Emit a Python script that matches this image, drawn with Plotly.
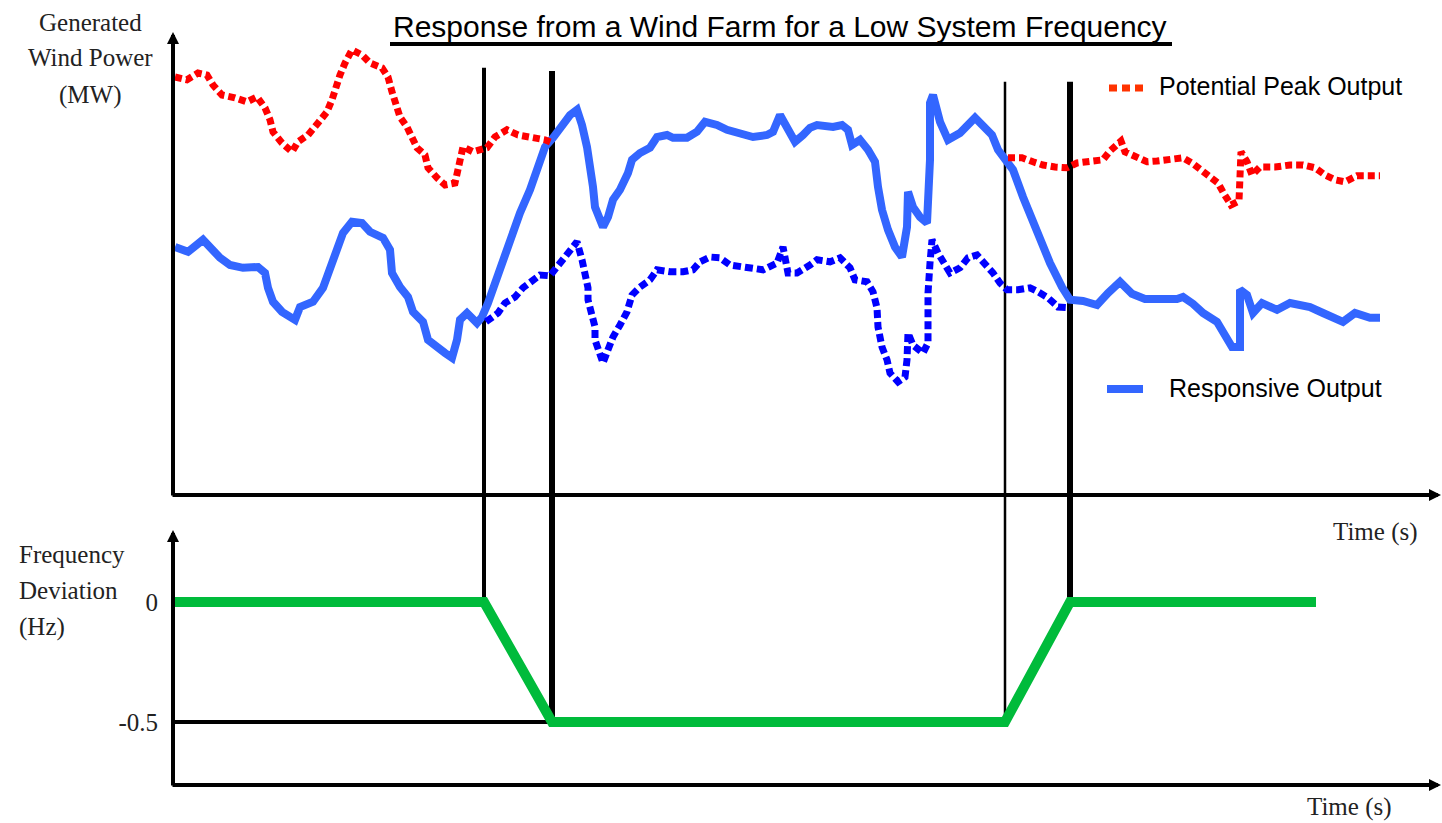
import plotly.graph_objects as go

W, H = 1442, 823

# ---------------- data ----------------
# Potential peak output (MW) - two visible segments
peak_t = [0.2, 1.4, 2.5, 3.4, 4.0, 4.9, 6.2, 7.4, 8.4, 9.2, 9.7, 10.0, 10.9, 11.9, 12.5, 13.5, 14.5,
          15.4, 15.9, 16.2, 16.7, 17.2, 17.9, 18.9, 19.7, 20.9, 21.5, 21.9, 22.7, 23.4, 23.9, 24.4,
          25.2, 25.5, 26.4, 27.2, 28.2, 28.4, 28.7, 29.0, 30.0, 31.4, 32.2, 33.4, 34.5, 35.9, 37.2, 38.0,
          None,
          83.5, 84.9, 86.0, 87.0, 88.2, 89.4, 90.4, 91.7, 93.0, 93.7, 94.8, 95.2, 96.2, 97.4, 98.4,
          99.9, 101.0, 101.9, 102.7, 103.7, 104.5, 105.1, 105.8, 106.6, 106.7, 106.7, 106.8, 107.4,
          107.9, 108.7, 110.2, 111.7, 113.0, 114.2, 115.2, 116.2, 117.2, 118.4, 119.5, 120.7]
peak_mw = [104.5, 103.8, 105.5, 105.0, 102.5, 100.0, 99.3, 98.3, 99.5, 96.8, 93.8, 90.8, 88.0, 85.8,
           88.3, 90.0, 93.0, 95.8, 98.8, 101.8, 105.0, 108.0, 111.3, 110.0, 108.0, 106.8, 104.5, 100.8,
           94.5, 92.0, 89.5, 86.8, 85.0, 81.8, 79.3, 77.5, 78.0, 80.8, 84.3, 87.0, 85.8, 86.8, 89.5,
           91.3, 90.0, 89.5, 88.8, 88.0,
           None,
           84.3, 84.3, 83.3, 82.5, 82.0, 81.8, 83.0, 83.3, 83.8, 86.0, 88.5, 85.8, 84.5, 83.3, 83.5,
           83.8, 84.3, 83.0, 81.3, 79.3, 78.0, 75.3, 72.5, 73.5, 77.0, 80.8, 85.8, 83.3,
           80.0, 82.0, 82.0, 82.5, 82.5, 81.8, 80.0, 78.8, 78.3, 79.8, 79.8, 79.8]

# Responsive output (MW)
resp_t = [0.2, 1.5, 3.0, 3.9, 4.7, 5.7, 7.0, 8.5, 9.2, 9.5, 10.0, 10.9, 12.2, 12.7, 14.0, 15.0, 15.7,
          16.4, 17.0, 17.9, 18.9, 19.7, 21.0, 21.7, 21.9, 22.7, 23.5, 24.0, 25.0, 25.5, 26.4, 27.2,
          27.9, 28.4, 28.7, 29.4, 30.4, 30.9, 31.5, 32.2, 33.0, 33.9, 34.7, 35.7, 36.5, 37.2, 38.0,
          38.9, 39.7, 40.4, 40.9, 41.4, 41.7, 42.0, 42.2, 43.0, 43.5, 44.0, 44.7, 45.5, 45.9, 46.7,
          47.7, 48.4, 49.4, 50.0, 51.4, 52.4, 53.2, 54.4, 55.4, 56.5, 58.0, 59.4, 60.0, 60.7, 61.4,
          62.2, 63.0, 63.7, 64.4, 66.0, 66.9, 67.5, 67.9, 68.7, 69.5, 70.2, 70.5, 70.9, 71.5, 72.2,
          72.9, 73.4, 73.5, 74.0, 74.7, 75.4, 75.7, 75.7, 76.0, 76.7, 77.5, 78.7, 80.2, 81.0, 81.9,
          82.5, 83.2, 84.0, 85.0, 85.9, 86.7, 87.7, 88.9, 89.7, 91.0, 92.4, 93.5, 94.7, 95.9, 97.2,
          100.4, 101.0, 102.0, 103.0, 104.4, 105.0, 105.9, 106.7, 106.7, 107.4, 108.0, 108.9, 110.4,
          111.7, 113.7, 115.0, 116.0, 117.0, 118.2, 119.7, 120.7]
resp_mw = [62.0, 60.8, 63.8, 61.3, 59.3, 57.5, 56.8, 57.0, 55.5, 51.8, 48.3, 45.8, 43.8, 47.0, 48.3,
           51.8, 56.3, 62.0, 65.5, 68.3, 68.0, 65.8, 64.3, 61.3, 55.5, 52.0, 49.5, 45.8, 43.3, 38.8,
           36.8, 35.5, 34.3, 38.8, 43.8, 45.5, 43.0, 44.5, 48.0, 53.0, 58.8, 64.5, 70.5, 76.3, 82.0,
           87.0, 89.3, 92.0, 95.0, 96.3, 92.5, 87.0, 83.0, 77.0, 72.0, 67.0, 69.5, 73.8, 76.3, 80.5,
           83.8, 85.5, 86.8, 89.5, 90.0, 89.3, 89.3, 90.8, 93.3, 92.5, 91.3, 90.5, 89.5, 90.0, 90.8,
           95.0, 91.8, 88.3, 90.0, 91.8, 92.5, 92.0, 92.5, 91.3, 87.5, 88.8, 86.3, 83.3, 77.0, 71.3,
           66.3, 62.0, 59.5, 67.0, 75.8, 72.0, 69.5, 68.0, 83.8, 98.0, 100.0, 93.3, 88.8, 90.5, 94.3,
           92.0, 90.0, 86.3, 84.3, 81.3, 74.5, 68.8, 63.8, 58.0, 52.0, 48.8, 48.5, 47.5, 50.5, 53.3,
           50.3, 49.0, 49.0, 49.5, 47.8, 45.5, 43.3, 40.5, 37.0, 37.0, 51.3, 50.0, 45.5, 48.0, 46.3,
           48.0, 47.0, 45.5, 44.3, 43.3, 45.5, 44.3, 44.3]

# De-loaded output during the event (MW)
deload_t = [31.3, 32.5, 33.2, 34.2, 35.0, 36.0, 36.7, 37.7, 38.7, 39.7, 40.4, 40.9, 41.2, 41.5, 41.5,
            41.9, 42.2, 42.2, 42.7, 43.0, 43.5, 44.0, 44.7, 45.4, 45.9, 46.7, 47.7, 48.4, 49.7, 51.0,
            52.0, 52.7, 53.7, 54.7, 55.7, 57.4, 59.0, 60.4, 61.0, 61.5, 62.4, 63.7, 64.4, 65.7, 66.7,
            67.7, 68.2, 69.4, 70.0, 70.4, 70.5, 70.9, 71.4, 71.7, 72.5, 73.2, 73.4, 73.5, 74.0, 75.0,
            75.5, 75.5, 75.5, 75.7, 75.9, 76.5, 77.1, 77.7, 78.7, 79.5, 80.4, 81.2, 82.0, 82.7, 83.4,
            84.5, 85.7, 86.5, 87.5, 88.5, 89.7]
deload_mw = [43.3, 45.5, 48.0, 49.5, 51.8, 53.8, 55.0, 54.8, 58.0, 61.0, 63.3, 58.8, 55.5, 51.8, 48.8,
             45.5, 42.0, 38.8, 35.5, 33.0, 36.3, 39.5, 42.5, 45.8, 50.0, 52.0, 53.8, 56.3, 55.8, 55.8,
             56.3, 58.3, 59.5, 59.3, 57.5, 56.8, 56.3, 58.0, 62.0, 55.5, 55.5, 57.5, 58.8, 58.3, 59.3,
             56.8, 53.8, 53.3, 50.8, 46.8, 42.0, 37.0, 33.8, 30.5, 28.3, 29.5, 33.8, 40.5, 37.5, 35.5,
             38.0, 43.8, 50.5, 58.0, 63.8, 60.5, 57.8, 55.5, 56.8, 59.3, 60.0, 58.0, 55.5, 53.0, 51.3,
             51.3, 51.8, 50.8, 49.3, 47.0, 46.8]

# Frequency deviation (Hz)
freq_t = [0.0, 31.1, 37.9, 83.2, 89.7, 114.3]
freq_dev = [0.0, 0.0, -0.5, -0.5, 0.0, 0.0]

# Event markers
event_t = [31.1, 37.9, 83.2, 89.7]
event_top_mw = [106.8, 106.0, 103.3, 103.3]
event_bottom_hz = [0.0, -0.5, -0.5, 0.0]
event_width = [4, 6, 2.5, 6]

y2_ticks = [0, -0.5]
y2_ticktext = ["0", "-0.5"]

# ---------------- layout geometry ----------------
def px(x):
    return x / W

def py(y):
    return 1 - y / H

XDOM = [px(173), px(1440)]
XR = [0, 126.7]
Y1DOM = [py(495), py(35)]
Y1R = [0, 115]
Y2DOM = [py(785), py(530)]
Y2R = [-(785 - 602) / 240, (602 - 530) / 240]

def paper_y1(v):
    return Y1DOM[0] + (v - Y1R[0]) / (Y1R[1] - Y1R[0]) * (Y1DOM[1] - Y1DOM[0])

def paper_y2(v):
    return Y2DOM[0] + (v - Y2R[0]) / (Y2R[1] - Y2R[0]) * (Y2DOM[1] - Y2DOM[0])

RED = "#FF0000"
BLUE = "#3366FF"
DBLUE = "#0000FF"
GREEN = "#00BB3B"
SERIF = "Liberation Serif, Times New Roman, serif"
SANS = "Liberation Sans, Arial, sans-serif"
TXT = "#222222"

fig = go.Figure()

fig.add_trace(go.Scatter(x=resp_t, y=resp_mw, mode="lines", name="Responsive Output",
                         line=dict(color=BLUE, width=8), xaxis="x", yaxis="y"))
fig.add_trace(go.Scatter(x=deload_t, y=deload_mw, mode="lines", name="De-loaded",
                         line=dict(color=DBLUE, width=7, dash="8px,4px"), xaxis="x", yaxis="y"))
fig.add_trace(go.Scatter(x=peak_t, y=peak_mw, mode="lines", name="Potential Peak Output",
                         line=dict(color=RED, width=7, dash="7px,4px"), connectgaps=False,
                         xaxis="x", yaxis="y"))
fig.add_trace(go.Scatter(x=freq_t, y=freq_dev, mode="lines", name="Frequency",
                         line=dict(color=GREEN, width=10), xaxis="x2", yaxis="y2"))

shapes = []
# horizontal -0.5 reference
shapes.append(dict(type="line", xref="x2", yref="y2", x0=0, x1=event_t[1], y0=-0.5, y1=-0.5,
                   line=dict(color="black", width=4), layer="below"))
# vertical event lines
for t, top, bot, w in zip(event_t, event_top_mw, event_bottom_hz, event_width):
    shapes.append(dict(type="line", xref="x", yref="paper", x0=t, x1=t,
                       y0=paper_y2(bot), y1=paper_y1(top),
                       line=dict(color="black", width=w), layer="below"))
# title underline
shapes.append(dict(type="line", xref="paper", yref="paper", x0=px(390), x1=px(1172),
                   y0=py(44), y1=py(44), line=dict(color="black", width=4)))
# legend keys
shapes.append(dict(type="line", xref="paper", yref="paper", x0=px(1109), x1=px(1143),
                   y0=py(88), y1=py(88), line=dict(color="#FF3300", width=7, dash="8px,5px")))
shapes.append(dict(type="line", xref="paper", yref="paper", x0=px(1107), x1=px(1143),
                   y0=py(389), y1=py(389), line=dict(color=BLUE, width=8)))

ann = []
# axes drawn as arrows
def arrow(hx, hy, ax, ay):
    ann.append(dict(x=px(hx), y=py(hy), xref="paper", yref="paper", text="", showarrow=True,
                    ax=ax, ay=ay, arrowhead=2, arrowsize=0.6, arrowwidth=4, arrowcolor="black",
                    standoff=0, startstandoff=0))

arrow(173, 32, 0, 465)
arrow(1442, 495, -1271, 0)
arrow(173, 530, 0, 257)
arrow(1442, 785, -1271, 0)

def label(x, y, text, size, font=SERIF, anchor="center", color=TXT):
    ann.append(dict(x=px(x), y=py(y), xref="paper", yref="paper", text=text, showarrow=False,
                    xanchor=anchor, yanchor="middle", font=dict(family=font, size=size, color=color)))

label(780, 27, "Response from a Wind Farm for a Low System Frequency", 30, SANS, color="black")
label(90, 22, "Generated", 25)
label(90, 58, "Wind Power", 25)
label(90, 95, "(MW)", 25)
label(17, 554, "Frequency", 25, anchor="left")
label(17, 590, "Deviation", 25, anchor="left")
label(17, 627, "(Hz)", 25, anchor="left")
label(1375, 532, "Time (s)", 25)
label(1349, 807, "Time (s)", 25)
label(1157, 86, "Potential Peak Output", 25, SANS, anchor="left", color="black")
label(1167, 388, "Responsive Output", 25, SANS, anchor="left", color="black")

fig.update_layout(
    width=W, height=H, autosize=False,
    margin=dict(l=0, r=0, t=0, b=0),
    paper_bgcolor="white", plot_bgcolor="white",
    showlegend=False,
    shapes=shapes, annotations=ann,
    xaxis=dict(domain=XDOM, range=XR, anchor="y", visible=False, fixedrange=True),
    yaxis=dict(domain=Y1DOM, range=Y1R, anchor="x", visible=False, fixedrange=True),
    xaxis2=dict(domain=XDOM, range=XR, anchor="y2", visible=False, fixedrange=True),
    yaxis2=dict(domain=Y2DOM, range=Y2R, anchor="x2", showgrid=False, zeroline=False,
                showline=False, ticks="", tickvals=y2_ticks, ticktext=y2_ticktext,
                ticklabelstandoff=14, tickfont=dict(family=SERIF, size=25, color=TXT),
                fixedrange=True),
)

fig.write_html("out.html",
               config={"displayModeBar": False},
               post_script="document.body.style.margin='0';document.body.style.padding='0';"
                           "document.documentElement.style.overflow='hidden';")
